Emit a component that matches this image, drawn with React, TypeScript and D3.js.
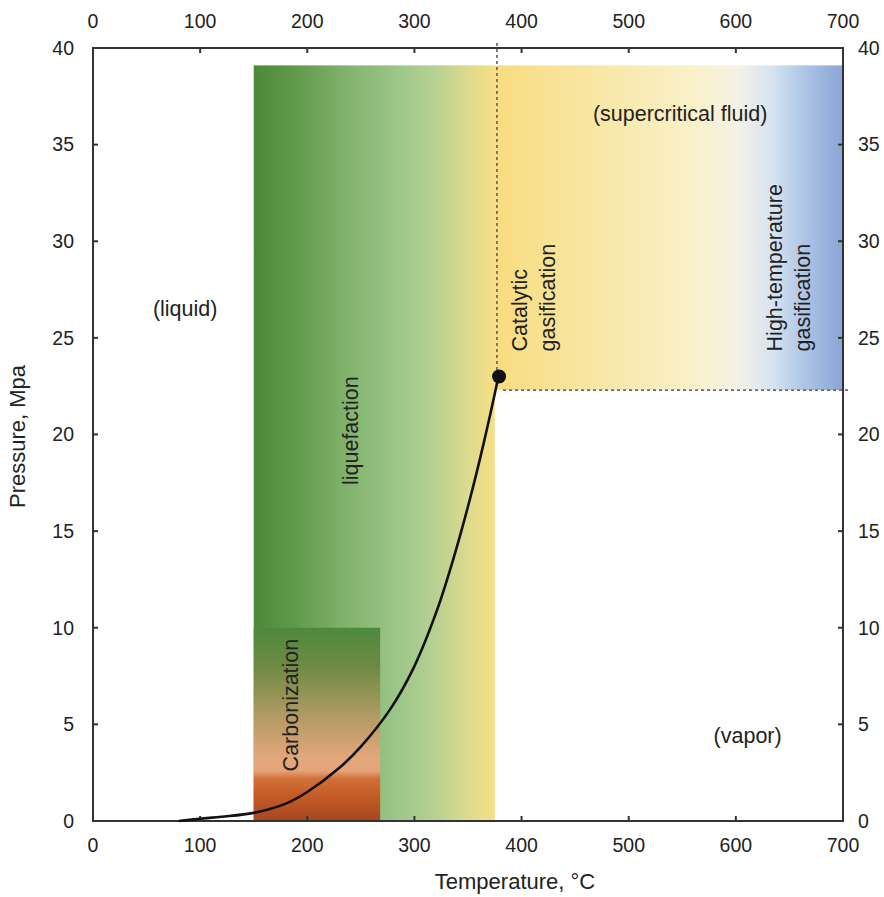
import React from "react";
import * as d3 from "d3";

// Water phase diagram with hydrothermal processing regimes
const W = 884;
const H = 897;
const margin = { top: 48, right: 41, bottom: 76, left: 93 };

const xTicks = [0, 100, 200, 300, 400, 500, 600, 700];
const yTicks = [0, 5, 10, 15, 20, 25, 30, 35, 40];

// Saturation (vapor pressure) curve of water, °C vs MPa
const curveT = [80, 100, 120, 150, 180, 200, 230, 250, 277, 299, 321, 336, 352, 364, 373, 378];
const curveP = [0, 0.12, 0.22, 0.42, 0.9, 1.5, 2.75, 3.85, 5.75, 7.9, 10.9, 13.5, 16.7, 19.4, 21.6, 22.9];

// Critical point marker and boundary lines
const criticalPoint = { t: 379, p: 23.0 };
const criticalT = 377;
const criticalP = 22.3;

// Process regions
const liquefactionRegion = { t0: 150, t1: 375, p0: 0, p1: 39.1 };
const supercriticalRegion = { t0: 375, t1: 700, p0: 22.3, p1: 39.1 };
const carbonizationRegion = { t0: 150, t1: 268, p0: 0, p1: 10 };

const greenStops: [number, string][] = [
  [0, "#4d883b"],
  [0.15, "#5e9749"],
  [0.4, "#83b46f"],
  [0.6, "#9dc689"],
  [0.75, "#b7d092"],
  [0.9, "#e0db8c"],
  [1, "#f6df86"],
];
const superStops: [number, string][] = [
  [0, "#f8dc80"],
  [0.3, "#f8e7a6"],
  [0.58, "#faf1cc"],
  [0.7, "#f3f2e6"],
  [0.8, "#d6e3f1"],
  [0.9, "#a9c1e4"],
  [1, "#8aa5d6"],
];
const carbStops: [number, string][] = [
  [0, "#4e893d"],
  [0.2, "#6e8a45"],
  [0.45, "#b09a62"],
  [0.68, "#e3a77c"],
  [0.74, "#e6a479"],
  [0.78, "#d2713a"],
  [0.86, "#c65d28"],
  [1, "#a6461f"],
];

export default function App() {
  const x = d3.scaleLinear().domain([0, 700]).range([margin.left, W - margin.right]);
  const y = d3.scaleLinear().domain([0, 40]).range([H - margin.bottom, margin.top]);
  const x0 = x(0), x1 = x(700), y0 = y(0), y1 = y(40);

  const line = d3
    .line<number>()
    .x((_, i) => x(curveT[i]))
    .y((d) => y(d))
    .curve(d3.curveCatmullRom.alpha(0.5));

  const font = "Liberation Sans, Arial, Helvetica, sans-serif";
  const tickFs = 19.5;
  const labelFs = 21.5;
  const titleFs = 22;
  const tickLen = 5;
  const frame = "#333";

  const rect = (r: { t0: number; t1: number; p0: number; p1: number }, fill: string) => (
    <rect
      x={x(r.t0)}
      y={y(r.p1)}
      width={x(r.t1) - x(r.t0)}
      height={y(r.p0) - y(r.p1)}
      fill={fill}
    />
  );

  return (
    <svg
      width={W}
      height={H}
      style={{ position: "absolute", left: 0, top: 0, background: "#fff" }}
      fontFamily={font}
    >
      <defs>
        <linearGradient id="gGreen" x1="0" x2="1" y1="0" y2="0">
          {greenStops.map(([o, c]) => (
            <stop key={o} offset={o} stopColor={c} />
          ))}
        </linearGradient>
        <linearGradient id="gSuper" x1="0" x2="1" y1="0" y2="0">
          {superStops.map(([o, c]) => (
            <stop key={o} offset={o} stopColor={c} />
          ))}
        </linearGradient>
        <linearGradient id="gCarb" x1="0" x2="0" y1="0" y2="1">
          {carbStops.map(([o, c]) => (
            <stop key={o} offset={o} stopColor={c} />
          ))}
        </linearGradient>
      </defs>

      {rect(liquefactionRegion, "url(#gGreen)")}
      {rect(supercriticalRegion, "url(#gSuper)")}
      {rect(carbonizationRegion, "url(#gCarb)")}

      {/* critical isotherm and isobar */}
      <line
        x1={x(criticalT)}
        x2={x(criticalT)}
        y1={y1 - 5}
        y2={y(criticalPoint.p)}
        stroke="#6a6a6a"
        strokeWidth={1.7}
        strokeDasharray="3,3"
      />
      <line
        x1={x(criticalPoint.t) + 4}
        x2={x1 + 8}
        y1={y(criticalP)}
        y2={y(criticalP)}
        stroke="#6a6a6a"
        strokeWidth={1.7}
        strokeDasharray="3,3"
      />

      {/* frame */}
      <rect x={x0} y={y1} width={x1 - x0} height={y0 - y1} fill="none" stroke={frame} strokeWidth={2} />

      {/* ticks, pointing inward on all four sides */}
      {xTicks.map((t) => (
        <g key={"x" + t}>
          <line x1={x(t)} x2={x(t)} y1={y0} y2={y0 - tickLen} stroke={frame} strokeWidth={2} />
          <line x1={x(t)} x2={x(t)} y1={y1} y2={y1 + tickLen} stroke={frame} strokeWidth={2} />
          <text x={x(t)} y={y0 + 31} textAnchor="middle" fontSize={tickFs} fill="#222">
            {t}
          </text>
          <text x={x(t)} y={y1 - 20} textAnchor="middle" fontSize={tickFs} fill="#222">
            {t}
          </text>
        </g>
      ))}
      {yTicks.map((t) => (
        <g key={"y" + t}>
          <line x1={x0} x2={x0 + tickLen} y1={y(t)} y2={y(t)} stroke={frame} strokeWidth={2} />
          <line x1={x1} x2={x1 - tickLen} y1={y(t)} y2={y(t)} stroke={frame} strokeWidth={2} />
          <text x={x0 - 19} y={y(t)} dy="0.35em" textAnchor="end" fontSize={tickFs} fill="#222">
            {t}
          </text>
          <text x={x1 + 15} y={y(t)} dy="0.35em" textAnchor="start" fontSize={tickFs} fill="#222">
            {t}
          </text>
        </g>
      ))}

      {/* saturation curve */}
      <path d={line(curveP) ?? ""} fill="none" stroke="#111" strokeWidth={2.6} />
      <line
        x1={x(curveT[curveT.length - 1])}
        y1={y(curveP[curveP.length - 1])}
        x2={x(criticalPoint.t)}
        y2={y(criticalPoint.p)}
        stroke="#111"
        strokeWidth={2.6}
      />
      <circle cx={x(criticalPoint.t)} cy={y(criticalPoint.p)} r={7} fill="#111" />

      {/* axis titles */}
      <text x={515} y={H - 8} textAnchor="middle" fontSize={titleFs} fill="#222">
        Temperature, °C
      </text>
      <text
        transform={`translate(25,${(y0 + y1) / 2 + 2}) rotate(-90)`}
        textAnchor="middle"
        fontSize={titleFs}
        fill="#222"
      >
        Pressure, Mpa
      </text>

      {/* phase labels */}
      <text x={x(86)} y={y(26.5)} dy="0.35em" textAnchor="middle" fontSize={labelFs} fill="#222">
        (liquid)
      </text>
      <text x={x(548)} y={y(36.6)} dy="0.35em" textAnchor="middle" fontSize={labelFs} fill="#222">
        (supercritical fluid)
      </text>
      <text x={x(611)} y={y(4.4)} dy="0.35em" textAnchor="middle" fontSize={labelFs} fill="#222">
        (vapor)
      </text>

      {/* process labels */}
      <text
        transform={`translate(${x(240)},${y(20.2)}) rotate(-90)`}
        dy="0.35em"
        textAnchor="middle"
        fontSize={labelFs}
        fill="#222"
      >
        liquefaction
      </text>
      <text
        transform={`translate(${x(184)},${y(6.0)}) rotate(-90)`}
        dy="0.35em"
        textAnchor="middle"
        fontSize={labelFs}
        fill="#222"
      >
        Carbonization
      </text>
      <text
        transform={`translate(${x(398)},${y(24.3)}) rotate(-90)`}
        textAnchor="start"
        fontSize={labelFs}
        fill="#222"
      >
        <tspan x={0} dy="0.35em">Catalytic</tspan>
        <tspan x={0} dy="1.3em">gasification</tspan>
      </text>
      <text
        transform={`translate(${x(636)},${y(24.3)}) rotate(-90)`}
        textAnchor="start"
        fontSize={labelFs}
        fill="#222"
      >
        <tspan x={0} dy="0.35em">High-temperature</tspan>
        <tspan x={0} dy="1.3em">gasification</tspan>
      </text>
    </svg>
  );
}
